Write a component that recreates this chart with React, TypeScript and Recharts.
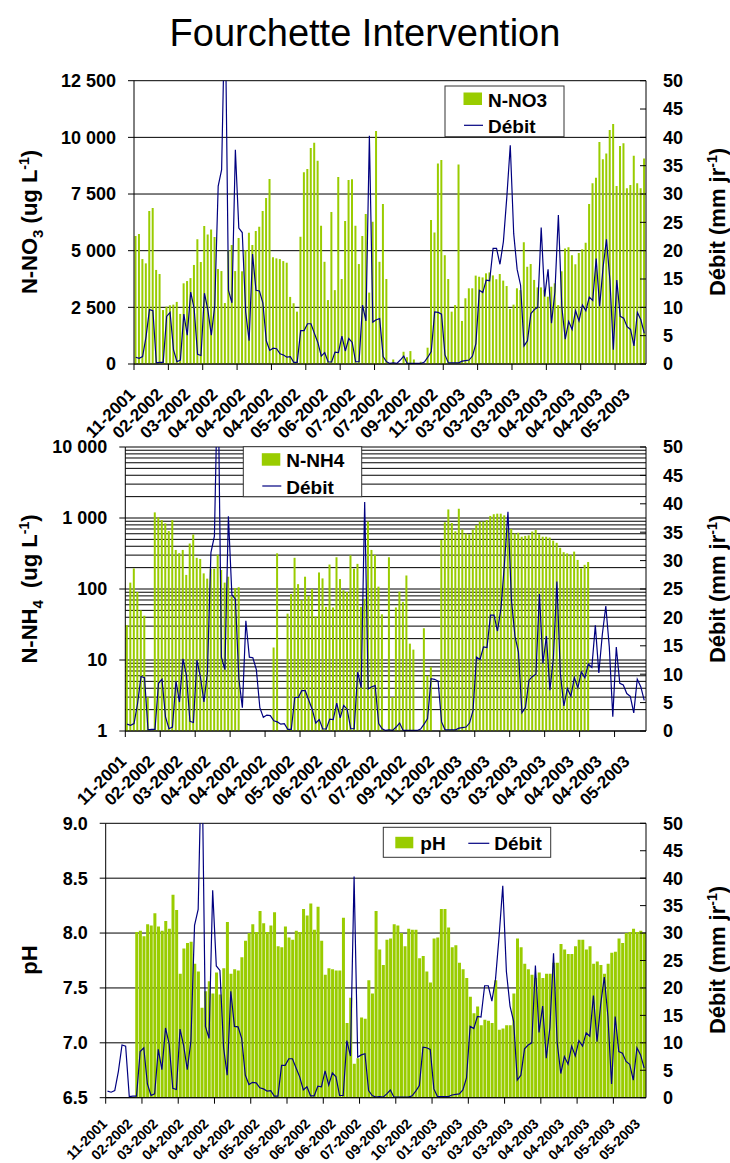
import React from "react";
import { Bar, CartesianGrid, ComposedChart, Line, XAxis, YAxis } from "recharts";

const FONT = '"Liberation Sans", Arial, Helvetica, sans-serif';
const GREEN = "#99cc00";
const NAVY = "#000080";

// sampling dates, one entry per category (run lengths of each month)
const MONTH_RUNS: [string, number][] = [
  ["11-2001", 3], ["12-2001", 2], ["01-2002", 2], ["02-2002", 7], ["03-2002", 7],
  ["04-2002", 21], ["05-2002", 14], ["06-2002", 8], ["07-2002", 12], ["08-2002", 1],
  ["09-2002", 5], ["10-2002", 5], ["11-2002", 3], ["12-2002", 1], ["01-2003", 3],
  ["02-2003", 1], ["03-2003", 23], ["04-2003", 21], ["05-2003", 10],
];
const DATES: string[] = MONTH_RUNS.flatMap(([m, n]) => Array(n).fill(m));

const NO3 = [
  5650, 5740, 4630, 4440, 6750, 6880, 4150, 3970, 2380, 2530,
  2590, 2620, 2740, 2210, 3560, 3660, 3790, 4370, 5500, 4500,
  6090, 5710, 5940, 5600, 4190, 4100, 2690, 5030, 5250, 4100,
  5560, 4090, 5030, 5790, 5250, 5870, 6060, 6750, 7320, 8160,
  4710, 4660, 4630, 4540, 4470, 2960, 2680, 2310, 5620, 8460,
  8600, 9530, 9760, 8970, 6100, 4510, 2820, 6710, 3260, 8250,
  3750, 6310, 8120, 8150, 6100, 4410, 5650, 6620, 3150, 6280,
  10280, 4510, 7060, 3750, null, 200, null, null, 540, 300,
  570, 200, null, 100, null, 720, 6350, 5800, 8850, 9000,
  4800, 3750, 2310, 2600, 8800, 1900, 2900, 3340, 3340, 3900,
  3850, 3820, 4000, 4040, 3910, 3740, 3970, 3680, 3440, 2430,
  2620, 3340, 3260, 5370, 4290, 4410, 3710, 3380, 3380, 3260,
  2970, 3410, 3560, 2600, 4090, 5100, 5150, 4800, 4400, 4900,
  5060, 5350, 7060, 7970, 8220, 9800, 9030, 9290, 10320, 10590,
  7850, 9620, 9740, 7760, 7900, 9190, 7970, 7750, 9070,
];

const NH4 = [
  31, 123, 195, 91, 50, 42, 3, null, 1200, 1020,
  935, 840, 655, 935, 355, 320, 355, 158, 437, 585,
  275, 265, 166, 140, 193, 193, 303, 185, 123, 149,
  78, 103, 106, null, null, null, null, null, null, null,
  null, null, 15, 318, null, null, 45, 85, 275, 117,
  70, 149, 80, 100, 41, 171, 141, 56, 221, 55,
  280, 138, 96, 91, 298, 193, 226, 56, 73, 890,
  355, 303, 108, 44, null, 280, 3, 55, 92, 66,
  155, 17, 14, null, null, 28, 6, 8, null, null,
  490, 870, 1320, 850, 650, 1350, 690, 605, 590, 690,
  795, 890, 890, 935, 1070, 1130, 1150, 1150, 1090, 710,
  700, 605, 620, 545, 560, 570, 645, 680, 590, 545,
  545, 530, 480, 447, 380, 330, 317, 303, 336, 257,
  195, 219, 240, null, null, null, null, null, null, null,
  null, null, null, null, null, null, null, null, null,
];

const PH = [
  null, null, null, null, null, null, null, null, 8.01, 8.02,
  7.97, 8.08, 8.07, 8.18, 8.06, 8.02, 8.11, 8.04, 8.35, 8.21,
  7.63, 7.86, 7.91, 7.92, 7.72, 7.65, 7.32, 7.47, 7.56, 7.45,
  7.64, 7.44, 7.68, 8.1, 7.63, 7.67, 7.66, 7.78, 7.93, 8.0,
  8.08, 8.01, 8.2, 8.09, 8.01, 8.07, 8.19, 7.88, 7.87, 8.06,
  7.96, 7.94, 8.02, 8.01, 8.22, 8.16, 8.27, 8.03, 8.24, 7.93,
  7.62, 7.68, 7.67, 7.66, 7.66, 8.14, 7.18, 7.41, 6.81, 6.86,
  7.23, 7.22, 7.57, 7.45, 8.2, 7.85, 7.71, 7.94, 7.95, 8.08,
  8.07, 8.0, 7.88, 8.04, 8.03, 8.03, 7.77, 7.79, 7.65, 7.55,
  7.95, 7.96, 8.22, 8.22, 8.05, 7.87, 7.89, 7.73, 7.67, 7.59,
  7.42, 7.27, 7.33, 7.16, 7.21, 7.2, 7.18, 7.57, 7.12, 7.13,
  7.16, 7.16, 7.45, 7.95, 7.87, 7.72, 7.67, 7.62, 7.59, 7.64,
  7.59, 7.63, 7.63, 7.73, 7.73, 7.9, 7.85, 7.81, 7.81, 7.88,
  7.94, 7.94, 7.85, 7.88, 7.72, 7.74, 7.71, 7.63, 7.72, 7.82,
  7.83, 7.95, 7.91, 8.0, 8.01, 8.04, 8.01, 8.02, 8.0,
];

const DEBIT = [
  1.2, 1.0, 1.3, 4.8, 9.6, 9.4, 0.2, 0.3, 0.3, 8.4,
  9.1, 2.5, 0.4, 0.7, 8.8, 5.1, 12.7, 9.8, 1.7, 1.5,
  12.5, 9.5, 5.1, 10.3, 31.4, 34.3, 65, 13, 10.8, 37.8,
  24, 23.2, 9.2, 4.1, 19.4, 13, 12.9, 10.8, 4.1, 2.4,
  2.8, 2.7, 1.8, 1.6, 1.2, 1.3, 0.3, 0.3, 5.9, 5.9,
  7.1, 7.1, 5.4, 3.8, 1.4, 2.0, 0.35, 0.35, 2.1, 2.0,
  4.9, 2.3, 4.5, 3.8, 0.4, 0.4, 10.4, 7.6, 40.3, 7.4,
  7.8, 8.0, 1.3, 0.4, 0.1, 0.2, 0.1, 0.7, 1.4, 0.1,
  0.1, 0.1, 0.1, 0.1, 0.35, 1.2, 2.2, 9.2, 9.1, 8.8,
  1.6, 0.2, 0.2, 0.2, 0.2, 0.5, 0.6, 0.7, 1.4, 3.6,
  13, 12.6, 14.8, 14.7, 20.4, 20.4, 17.6, 21.6, 29.5, 38.6,
  23, 16.7, 13.9, 3.2, 4.1, 8.9, 9.6, 10, 24.1, 11.9,
  16.7, 7.2, 12.8, 26.3, 10.1, 4.4, 7.5, 6.1, 9.4, 7.6,
  10.4, 9.4, 11.8, 11.2, 18.6, 10.2, 17, 22, 14.8, 2.5,
  14.8, 8.4, 8.1, 6.6, 6.1, 3.2, 9.1, 7.8, 5.4,
];

const NO3_TICKS = [0, 2500, 5000, 7500, 10000, 12500];
const NH4_TICKS = [
  1, 2, 3, 4, 5, 6, 7, 8, 9,
  10, 20, 30, 40, 50, 60, 70, 80, 90,
  100, 200, 300, 400, 500, 600, 700, 800, 900,
  1000, 2000, 3000, 4000, 5000, 6000, 7000, 8000, 9000,
  10000,
];
const NH4_LABELED = [1, 10, 100, 1000, 10000];
const PH_TICKS = [6.5, 7, 7.5, 8, 8.5, 9];
const DEBIT_TICKS = [0, 5, 10, 15, 20, 25, 30, 35, 40, 45, 50];

const rows = DATES.map((date, i) => ({
  i,
  date,
  no3: NO3[i],
  nh4: NH4[i],
  ph: PH[i],
  debit: DEBIT[i],
}));

const N = DATES.length;
const AXIS_TICK = { fill: "#000", fontSize: 18, fontWeight: 700, fontFamily: FONT };

const spaced = (v: number) => String(v).replace(/\B(?=(\d{3})+(?!\d))/g, " ");

function DateTick(props: any) {
  const { x, y, payload, every, band, size, drop } = props;
  const i = Number(payload.value);
  const bx = x - band / 2;
  const lx = x + 0.5;
  const ly = y + drop;
  return (
    <g>
      {i % 10 === 0 && <line x1={bx} x2={bx} y1={y} y2={y + 6} stroke="#000" />}
      {i % every === 0 && (
        <text
          x={lx}
          y={ly}
          textAnchor="end"
          transform={`rotate(-45 ${lx} ${ly})`}
          fontFamily={FONT}
          fontWeight={700}
          fontSize={size}
          fill="#000"
        >
          {DATES[i]}
        </text>
      )}
    </g>
  );
}

function LogTick(props: any) {
  const { x, y, payload } = props;
  if (!NH4_LABELED.includes(payload.value)) return <g />;
  return (
    <g>
      <line x1={x + 12} x2={x + 18} y1={y} y2={y} stroke="#000" />
      <text x={x} y={y} dy="0.36em" textAnchor="end" {...AXIS_TICK}>
        {spaced(payload.value)}
      </text>
    </g>
  );
}

function DebitAxis() {
  return (
    <YAxis
      yAxisId="right"
      orientation="right"
      width={84}
      domain={[0, 50]}
      ticks={DEBIT_TICKS}
      interval={0}
      allowDataOverflow
      tick={AXIS_TICK}
      tickSize={-6}
      tickMargin={23}
      axisLine={{ stroke: "#000" }}
      tickLine={{ stroke: "#000" }}
    />
  );
}

function Legend({ x, y, w, h, label, row }: { x: number; y: number; w: number; h: number; label: string; row: boolean }) {
  const text = { fontFamily: FONT, fontWeight: 700, fontSize: 19, fill: "#000" };
  if (row) {
    return (
      <g>
        <rect x={x} y={y} width={w} height={h} fill="#fff" stroke="#333" />
        <rect x={x + 12} y={y + 9.5} width={18} height={11.5} fill={GREEN} />
        <text x={x + 37} y={y + 22.5} {...text}>{label}</text>
        <line x1={x + 85} x2={x + 106} y1={y + 16} y2={y + 16} stroke={NAVY} strokeWidth={1.2} />
        <text x={x + 111} y={y + 22.5} {...text}>Débit</text>
      </g>
    );
  }
  return (
    <g>
      <rect x={x} y={y} width={w} height={h} fill="#fff" stroke="#333" />
      <rect x={x + 18.5} y={y + 6.5} width={18.5} height={12.5} fill={GREEN} />
      <text x={x + 43} y={y + 20.5} {...text}>{label}</text>
      <line x1={x + 19} x2={x + 38} y1={y + 39.3} y2={y + 39.3} stroke={NAVY} strokeWidth={1.2} />
      <text x={x + 43} y={y + 47} {...text}>Débit</text>
    </g>
  );
}

function SideTitle({ x, y, children }: { x: number; y: number; children: React.ReactNode }) {
  return (
    <text
      x={x}
      y={y}
      dy="0.36em"
      textAnchor="middle"
      transform={`rotate(-90 ${x} ${y})`}
      fontFamily={FONT}
      fontWeight={700}
      fontSize={22}
      fill="#000"
      style={{ whiteSpace: "pre" }}
    >
      {children}
    </text>
  );
}

export default function App() {
  return (
    <div style={{ position: "absolute", left: 0, top: 0, width: 730, height: 1163, background: "#fff" }}>
      {/* N-NO3 */}
      <div style={{ position: "absolute", left: 0, top: 60 }}>
        <ComposedChart width={730} height={390} data={rows} margin={{ top: 20.7, right: 0, bottom: 0, left: 0 }} barCategoryGap="15%">
          <CartesianGrid yAxisId="left" vertical={false} stroke="#000" />
          <XAxis
            dataKey="i"
            interval={0}
            height={86}
            tickLine={false}
            tickSize={0}
            tickMargin={0}
            axisLine={{ stroke: "#000" }}
            tick={(p: any) => <DateTick {...p} every={8} band={512 / N} size={17} drop={31.5} />}
          />
          <YAxis
            yAxisId="left"
            width={134}
            domain={[0, 12500]}
            ticks={NO3_TICKS}
            interval={0}
            allowDataOverflow
            tickFormatter={spaced}
            tick={AXIS_TICK}
            tickSize={6}
            tickMargin={12}
            axisLine={{ stroke: "#000" }}
            tickLine={{ stroke: "#000" }}
          />
          {DebitAxis()}
          <Bar yAxisId="left" dataKey="no3" fill={GREEN} isAnimationActive={false} />
          <Line yAxisId="right" dataKey="debit" stroke={NAVY} strokeWidth={1.2} dot={false} isAnimationActive={false} />
        </ComposedChart>
      </div>

      {/* N-NH4, log scale */}
      <div style={{ position: "absolute", left: 0, top: 425 }}>
        <ComposedChart width={730} height={390} data={rows} margin={{ top: 22, right: 0, bottom: 0, left: 0 }} barCategoryGap="15%">
          <CartesianGrid yAxisId="left" vertical={false} stroke="#000" />
          <XAxis
            dataKey="i"
            interval={0}
            height={84}
            tickLine={false}
            tickSize={0}
            tickMargin={0}
            axisLine={{ stroke: "#000" }}
            tick={(p: any) => <DateTick {...p} every={8} band={520.7 / N} size={17} drop={31.5} />}
          />
          <YAxis
            yAxisId="left"
            width={125.3}
            scale="log"
            domain={[1, 10000]}
            ticks={NH4_TICKS}
            interval={0}
            allowDataOverflow
            tick={(p: any) => <LogTick {...p} />}
            tickLine={false}
            tickSize={6}
            tickMargin={12}
            axisLine={{ stroke: "#000" }}
          />
          {DebitAxis()}
          <Bar yAxisId="left" dataKey="nh4" fill={GREEN} isAnimationActive={false} />
          <Line yAxisId="right" dataKey="debit" stroke={NAVY} strokeWidth={1.2} dot={false} isAnimationActive={false} />
        </ComposedChart>
      </div>

      {/* pH */}
      <div style={{ position: "absolute", left: 0, top: 800 }}>
        <ComposedChart width={730} height={363} data={rows} margin={{ top: 23.3, right: 0, bottom: 0, left: 0 }} barCategoryGap="15%">
          <CartesianGrid yAxisId="left" vertical={false} stroke="#000" />
          <XAxis
            dataKey="i"
            interval={0}
            height={65.3}
            tickLine={false}
            tickSize={0}
            tickMargin={0}
            axisLine={{ stroke: "#000" }}
            tick={(p: any) => <DateTick {...p} every={7} band={540.3 / N} size={14} drop={27} />}
          />
          <YAxis
            yAxisId="left"
            width={105.7}
            domain={[6.5, 9]}
            ticks={PH_TICKS}
            interval={0}
            allowDataOverflow
            tickFormatter={(v: number) => v.toFixed(1)}
            tick={AXIS_TICK}
            tickSize={6}
            tickMargin={12}
            axisLine={{ stroke: "#000" }}
            tickLine={{ stroke: "#000" }}
          />
          {DebitAxis()}
          <Bar yAxisId="left" dataKey="ph" fill={GREEN} isAnimationActive={false} />
          <Line yAxisId="right" dataKey="debit" stroke={NAVY} strokeWidth={1.2} dot={false} isAnimationActive={false} />
        </ComposedChart>
      </div>

      <svg width={730} height={1163} style={{ position: "absolute", left: 0, top: 0, pointerEvents: "none" }}>
        <text x={365} y={46} textAnchor="middle" fontFamily={FONT} fontSize={38} fill="#000">
          Fourchette Intervention
        </text>

        <SideTitle x={29} y={222}>
          N-NO<tspan dy={6} fontSize={15}>3</tspan>
          <tspan dy={-6}> (ug L</tspan>
          <tspan dy={-8} fontSize={14}>-1</tspan>
          <tspan dy={8}>)</tspan>
        </SideTitle>
        <SideTitle x={29} y={589}>
          N-NH<tspan dy={6} fontSize={15}>4</tspan>
          <tspan dy={-6}>{"  (ug L"}</tspan>
          <tspan dy={-8} fontSize={14}>-1</tspan>
          <tspan dy={8}>)</tspan>
        </SideTitle>
        <SideTitle x={29} y={960}>pH</SideTitle>

        {[222, 589, 960].map((cy) => (
          <SideTitle key={cy} x={717} y={cy}>
            Débit (mm jr<tspan dy={-8} fontSize={14}>-1</tspan>
            <tspan dy={8}>)</tspan>
          </SideTitle>
        ))}

        <Legend x={445} y={86} w={119} h={50.7} label="N-NO3" row={false} />
        <Legend x={243.3} y={446.7} w={118.4} h={50} label="N-NH4" row={false} />
        <Legend x={383.3} y={827.3} w={167.4} h={30} label="pH" row={true} />
      </svg>
    </div>
  );
}
